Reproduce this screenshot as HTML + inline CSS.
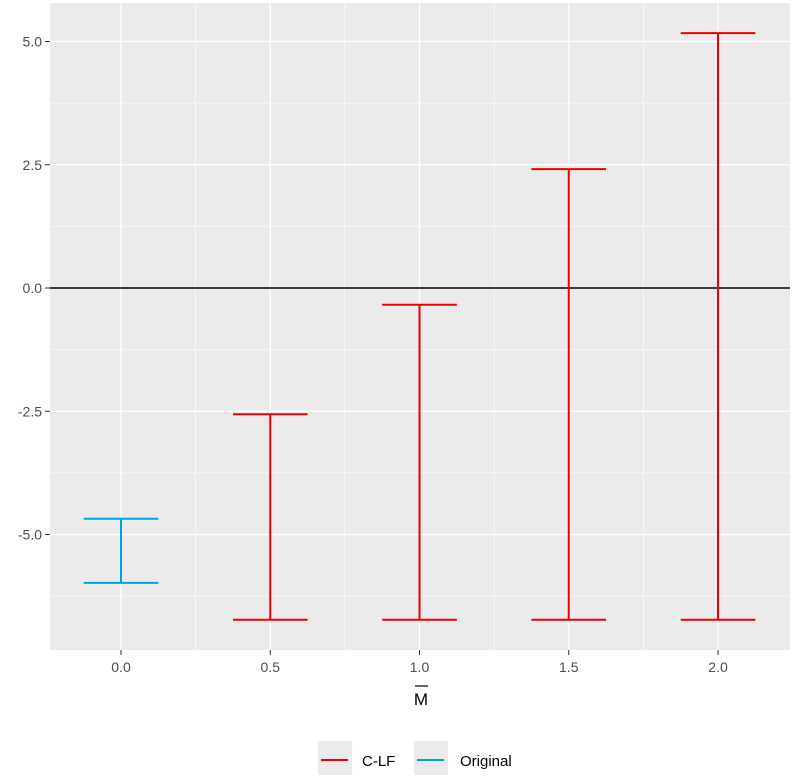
<!DOCTYPE html>
<html><head><meta charset="utf-8"><style>body{margin:0;background:#fff}svg{display:block;font-family:"Liberation Sans",sans-serif}</style></head>
<body>
<svg id="c" width="807" height="778">
<rect x="50" y="3" width="740" height="647" fill="#ebebeb"/>
<g id="grid"></g><g id="marks"></g><g id="axes"></g>
<line x1="415" y1="686" x2="428" y2="686" stroke="#000" stroke-width="1.2"/>
<text x="421" y="705" font-size="17" text-anchor="middle">M</text>
<g>
<g><rect x="318" y="741" width="34" height="34" fill="#ebebeb"/><line x1="321" y1="760" x2="348" y2="760" stroke="#e00" stroke-width="2"/><text x="362" y="766" font-size="15">C-LF</text></g>
<g><rect x="414" y="741" width="34" height="34" fill="#ebebeb"/><line x1="417" y1="760" x2="444" y2="760" stroke="#00a5d4" stroke-width="2"/><text x="460" y="766" font-size="15">Original</text></g>
</g>
</svg>
<script>
const categories=[0,0.5,1.0,1.5,2.0];
const series=["Original","C-LF","C-LF","C-LF","C-LF"];
const upper=[-4.68,-2.56,-0.34,2.41,5.17];
const lower=[-5.98,-6.73,-6.73,-6.73,-6.73];
const yTicks=[-5,-2.5,0,2.5,5];
const yLabels=["-5.0","-2.5","0.0","2.5","5.0"];
const xLabels=["0.0","0.5","1.0","1.5","2.0"];
const colors={"Original":"#00a5d4","C-LF":"#e00"};
const X=v=>121+v*298.5, Y=v=>288-v*49.3;
const ns="http://www.w3.org/2000/svg";
function mk(p,t,a){const e=document.createElementNS(ns,t);for(const k in a)e.setAttribute(k,a[k]);p.appendChild(e);return e;}
const g=document.getElementById('grid'),m=document.getElementById('marks'),ax=document.getElementById('axes');
for(let i=0;i<yTicks.length-1;i++){const v=(yTicks[i]+yTicks[i+1])/2;mk(g,'line',{x1:50,x2:790,y1:Y(v),y2:Y(v),stroke:'#fff','stroke-width':0.6});}
mk(g,'line',{x1:50,x2:790,y1:Y(-6.25),y2:Y(-6.25),stroke:'#fff','stroke-width':0.6});
for(let i=0;i<categories.length-1;i++){const v=(categories[i]+categories[i+1])/2;mk(g,'line',{y1:3,y2:650,x1:X(v),x2:X(v),stroke:'#fff','stroke-width':0.6});}
yTicks.forEach((v,i)=>{const l=mk(g,'line',{x1:50,x2:790,y1:Y(v),y2:Y(v),stroke:'#fff','stroke-width':1.3});

mk(ax,'line',{x1:45,x2:50,y1:Y(v),y2:Y(v),stroke:'#333'});
const t=mk(ax,'text',{x:42,y:Y(v)+5,'font-size':14,'text-anchor':'end',fill:'#4d4d4d'});t.textContent=yLabels[i];
});
categories.forEach((v,i)=>{mk(g,'line',{y1:3,y2:650,x1:X(v),x2:X(v),stroke:'#fff','stroke-width':1.3});
mk(ax,'line',{y1:650,y2:655,x1:X(v),x2:X(v),stroke:'#333'});
const t=mk(ax,'text',{x:X(v),y:672,'font-size':14,'text-anchor':'middle',fill:'#4d4d4d'});t.textContent=xLabels[i];
});
const h=mk(m,'line',{x1:50,x2:790,y1:Y(0),y2:Y(0),stroke:'#000','stroke-width':1.6});

categories.forEach((v,i)=>{const c=colors[series[i]],x=X(v),w=0.125*298.5;
const e=mk(m,'g',{stroke:c,'stroke-width':2,fill:'none'});

mk(e,'line',{x1:x,x2:x,y1:Y(upper[i]),y2:Y(lower[i])});
mk(e,'line',{x1:x-w,x2:x+w,y1:Y(upper[i]),y2:Y(upper[i])});
mk(e,'line',{x1:x-w,x2:x+w,y1:Y(lower[i]),y2:Y(lower[i])});});
</script>
</body></html>
